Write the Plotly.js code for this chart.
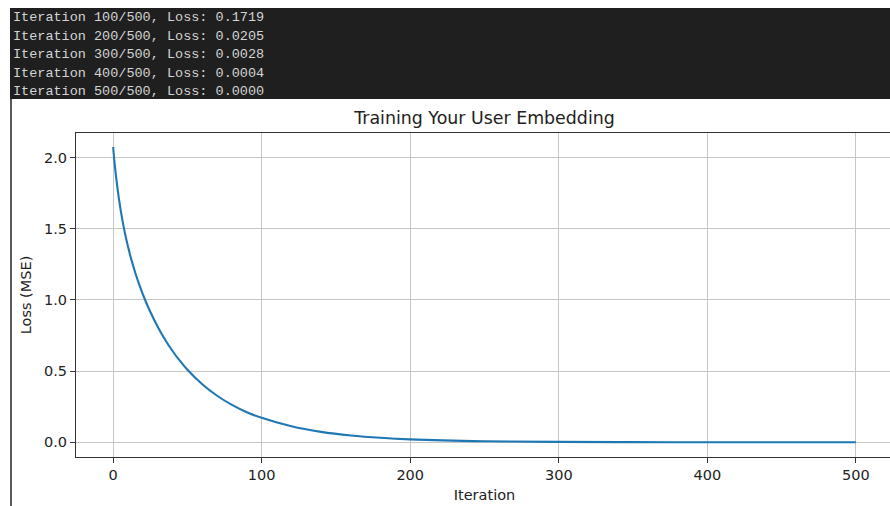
<!DOCTYPE html>
<html>
<head>
<meta charset="utf-8">
<script src="https://cdn.plot.ly/plotly-3.0.1.min.js"></script>
<style>
  html, body { margin: 0; padding: 0; background: #ffffff; overflow: hidden; }
  #chart { width: 904px; height: 506px; }
</style>
</head>
<body>
<div id="chart"></div>
<script>
// ---- data ----
const iterations = [0, 1, 2, 3, 4, 6, 8, 10, 12, 15, 18, 21, 25, 30, 35, 40, 45, 50, 60, 70, 80, 90, 100,
                    120, 140, 160, 180, 200, 250, 300, 350, 400, 450, 500];
const lossValues = [2.075, 1.960, 1.864, 1.780, 1.704, 1.575, 1.467, 1.375, 1.294, 1.188, 1.096, 1.014,
                    0.917, 0.812, 0.721, 0.6415, 0.5715, 0.510, 0.408, 0.327, 0.263, 0.2115, 0.1719,
                    0.1121, 0.0733, 0.0480, 0.0315, 0.0205, 0.00715, 0.0028, 0.00106, 0.0004, 0.00015, 0.00004];
const consoleLines = [
  "Iteration 100/500, Loss: 0.1719",
  "Iteration 200/500, Loss: 0.0205",
  "Iteration 300/500, Loss: 0.0028",
  "Iteration 400/500, Loss: 0.0004",
  "Iteration 500/500, Loss: 0.0000"
];
const xTicks = [0, 100, 200, 300, 400, 500];
const yTicks = [0, 0.5, 1.0, 1.5, 2.0];
const titleText = "Training Your User Embedding";
const xTitle = "Iteration";
const yTitle = "Loss (MSE)";

// ---- layout geometry (pixels) ----
const W = 904, H = 506;
const M = { l: 76, r: 11, t: 133, b: 49 };
const plotW = W - M.l - M.r, plotH = H - M.t - M.b;
const px = x => (x - M.l) / plotW;
const py = y => (H - M.b - y) / plotH;

const shapes = [
  { type: 'rect', xref: 'paper', yref: 'paper', x0: px(10), x1: px(892), y0: py(99), y1: py(8),
    fillcolor: '#1f1f1f', line: { width: 0 }, layer: 'above' },
  { type: 'line', xref: 'paper', yref: 'paper', x0: px(11), x1: px(11), y0: py(99), y1: py(506),
    line: { color: '#222222', width: 1.5 }, layer: 'above' }
];

const annotations = consoleLines.map((t, i) => ({
  xref: 'paper', yref: 'paper', x: px(11), y: py(17.5 + i * 18.5),
  xanchor: 'left', yanchor: 'middle', showarrow: false, text: t,
  font: { family: 'Liberation Mono, DejaVu Sans Mono, monospace', size: 13.5, color: '#d4d4d4' }
}));

const trace = {
  x: iterations, y: lossValues, type: 'scatter', mode: 'lines',
  line: { color: '#1f77b4', width: 2.1, shape: 'spline', smoothing: 1 },
  hoverinfo: 'skip'
};

const axisFont = { family: 'DejaVu Sans, sans-serif', size: 14.5, color: '#222222' };

const layout = {
  width: W, height: H,
  margin: M,
  paper_bgcolor: '#ffffff', plot_bgcolor: '#ffffff',
  showlegend: false,
  font: axisFont,
  title: { text: titleText, x: 0.5, xref: 'paper', xanchor: 'center',
           y: 1 - 118 / H, yref: 'container', yanchor: 'middle',
           font: { family: 'DejaVu Sans, sans-serif', size: 17.4, color: '#222222' } },
  xaxis: {
    range: [-25, 525], tickvals: xTicks, ticktext: xTicks.map(String),
    showgrid: true, gridcolor: '#c6c6c6', gridwidth: 1, zeroline: false,
    showline: true, mirror: true, linecolor: '#333333', linewidth: 1,
    ticks: 'outside', ticklen: 5, tickwidth: 1, tickcolor: '#333333',
    tickfont: axisFont,
    title: { text: xTitle, font: axisFont, standoff: 7 }
  },
  yaxis: {
    range: [-0.1035, 2.1735], tickvals: yTicks, ticktext: yTicks.map(v => v.toFixed(1)),
    showgrid: true, gridcolor: '#c6c6c6', gridwidth: 1, zeroline: false,
    showline: true, mirror: true, linecolor: '#333333', linewidth: 1,
    ticks: 'outside', ticklen: 5, tickwidth: 1, tickcolor: '#333333',
    tickfont: axisFont,
    title: { text: yTitle, font: axisFont, standoff: 8 }
  },
  shapes: shapes,
  annotations: annotations
};

Plotly.newPlot('chart', [trace], layout, { staticPlot: true, displayModeBar: false });
</script>
</body>
</html>
